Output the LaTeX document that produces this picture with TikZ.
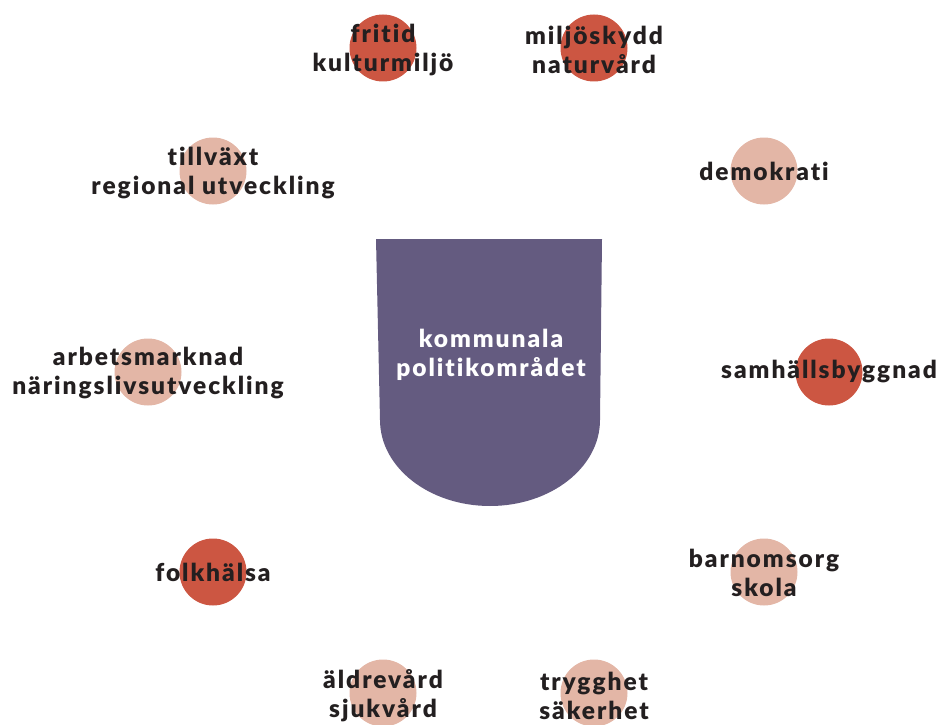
\documentclass[tikz,border=0pt]{standalone}
\usepackage{fontspec}
\setmainfont{Lato}[BoldFont={Lato Black},LetterSpace=8,Ligatures={NoCommon},RawFeature={-liga;-dlig;-clig}]
\definecolor{shieldc}{HTML}{645B80}
\definecolor{redc}{HTML}{CC5642}
\definecolor{pinkc}{HTML}{E3B6A6}
\definecolor{txtc}{HTML}{231F20}
\begin{document}
\begin{tikzpicture}[x=1pt,y=-1pt,
  dot/.style={circle,minimum size=67pt,inner sep=0pt},
  reddot/.style={dot,fill=redc},
  pinkdot/.style={dot,fill=pinkc},
  lbl/.style={text=txtc,font=\fontsize{24.5}{29}\selectfont\bfseries,align=center,inner sep=0pt}]
\useasboundingbox (0,0) rectangle (940,725);
% shield
\fill[shieldc] (376,239) -- (602,239) -- (600,420) arc[start angle=0,end angle=180,x radius=110,y radius=86] -- cycle;
\node[text=white,font=\fontsize{24.5}{29}\selectfont\bfseries,align=center,inner sep=0pt] (center) at (491,355) {kommunala\\politikområdet};
% circles
\node[reddot] (c1) at (383,48) {};
\node[reddot] (c2) at (594,48) {};
\node[pinkdot] (c3) at (764,171) {};
\node[reddot] (c4) at (829,372) {};
\node[pinkdot] (c5) at (764,572) {};
\node[pinkdot] (c6) at (594,693) {};
\node[pinkdot] (c7) at (383,693) {};
\node[reddot] (c8) at (213,572) {};
\node[pinkdot] (c9) at (148,372) {};
\node[pinkdot] (c10) at (213,171) {};
% labels
\node[lbl] (t1) at (383,50) {fritid\\kulturmiljö};
\node[lbl] (t2) at (594,50) {miljöskydd\\naturvård};
\node[lbl] (t3) at (764,171) {demokrati};
\node[lbl] (t4) at (829,372) {samhällsbyggnad};
\node[lbl] (t5) at (764,573) {barnomsorg\\skola};
\node[lbl] (t6) at (594,696) {trygghet\\säkerhet};
\node[lbl] (t7) at (383,696) {äldrevård\\sjukvård};
\node[lbl] (t8) at (213,572) {folkhälsa};
\node[lbl] (t9) at (148,373) {arbetsmarknad\\näringslivsutveckling};
\node[lbl] (t10) at (213,173) {tillväxt\\regional utveckling};
\end{tikzpicture}
\end{document}
